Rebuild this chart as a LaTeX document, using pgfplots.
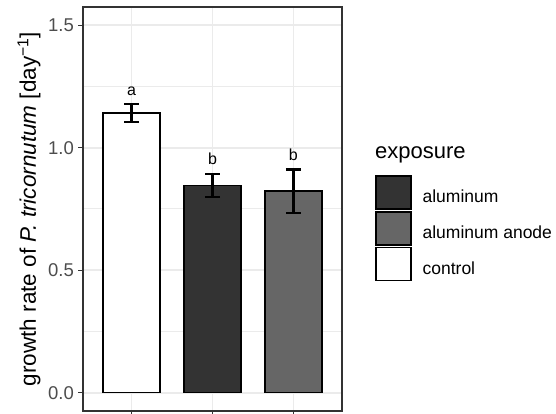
\documentclass[border=0pt]{standalone}
\usepackage{fontspec}
\setmainfont{Liberation Sans}
\usepackage{pgfplots}
\pgfplotsset{compat=1.18}
\definecolor{gtwenty}{HTML}{333333}
\definecolor{gforty}{HTML}{666666}
\definecolor{gridc}{HTML}{EBEBEB}
\definecolor{gthirty}{HTML}{4D4D4D}
\begin{document}
\begin{tikzpicture}
\useasboundingbox (0,0) rectangle (556pt,414pt);
\begin{axis}[
  at={(83pt,3pt)}, anchor=south west,
  scale only axis, width=259pt, height=404pt,
  clip=false,
  xmin=0.4, xmax=3.6, ymin=-0.075, ymax=1.575,
  xtick={1,2,3}, xticklabels={},
  ytick={0,0.5,1,1.5}, yticklabels={0.0,0.5,1.0,1.5},
  minor ytick={0.25,0.75,1.25},
  grid=both,
  major grid style={draw=gridc, line width=1.8pt},
  minor grid style={draw=gridc, line width=1pt},
  axis line style={draw=gtwenty, line width=1.1pt},
  tick align=outside, major tick length=5pt, minor tick length=0pt,
  tick style={draw=gtwenty, line width=1.1pt},
  xtick pos=left, ytick pos=left,
  yticklabel style={font=\fontsize{18.5}{20}\selectfont, text=gthirty, inner sep=0pt, xshift=-4pt},
  ylabel={growth rate of \textit{P. tricornutum} [day\textsuperscript{−1}]},
  ylabel style={at={(axis description cs:-0.1815,0.5)}, anchor=base, font=\fontsize{22.5}{24}\selectfont, inner sep=0pt},
  legend style={at={(rel axis cs:1.1274,0.584)}, anchor=north west, draw=none, fill=none,
    inner sep=0pt, outer sep=0pt, row sep=1.3pt, column sep=11pt,
    font=\fontsize{17.5}{19}\selectfont, nodes={inner sep=0pt}},
  legend cell align=left,
  ybar legend/.style={legend image code/.code={\draw[##1, draw=black, line width=1.6pt] (0pt,-12pt) rectangle (35pt,21pt);}},
  area legend/.style={legend image code/.code={\draw[##1, draw=black, line width=1.6pt] (0pt,-12pt) rectangle (35pt,21pt);}},
  mybar/.style={ybar, ybar legend, bar width=0.7, bar shift=0pt, draw=black, line width=1.6pt,
    /pgfplots/error bars/y dir=both, /pgfplots/error bars/y explicit,
    /pgfplots/error bars/error bar style={line width=2.2pt, draw=black, solid},
    /pgfplots/error bars/error mark options={rotate=90, line width=2.2pt, mark size=7.5pt, draw=black, solid}},
]
\addplot[mybar, fill=gtwenty] coordinates {(2,0.846) +- (0,0.047)};
\addlegendentry{aluminum}
\addplot[mybar, fill=gforty] coordinates {(3,0.823) +- (0,0.088)};
\addlegendentry{aluminum anode}
\addplot[mybar, fill=white] coordinates {(1,1.142) +- (0,0.037)};
\addlegendentry{control}
\node[anchor=base, font=\fontsize{16}{17}\selectfont, inner sep=0pt] at (axis cs:1,1.215) {a};
\node[anchor=base, font=\fontsize{16}{17}\selectfont, inner sep=0pt] at (axis cs:2,0.932) {b};
\node[anchor=base, font=\fontsize{16}{17}\selectfont, inner sep=0pt] at (axis cs:3,0.95) {b};
\node[anchor=base west, font=\fontsize{22}{24}\selectfont, inner sep=0pt] at (rel axis cs:1.1274,0.626) {exposure};
\end{axis}
\end{tikzpicture}
\end{document}
